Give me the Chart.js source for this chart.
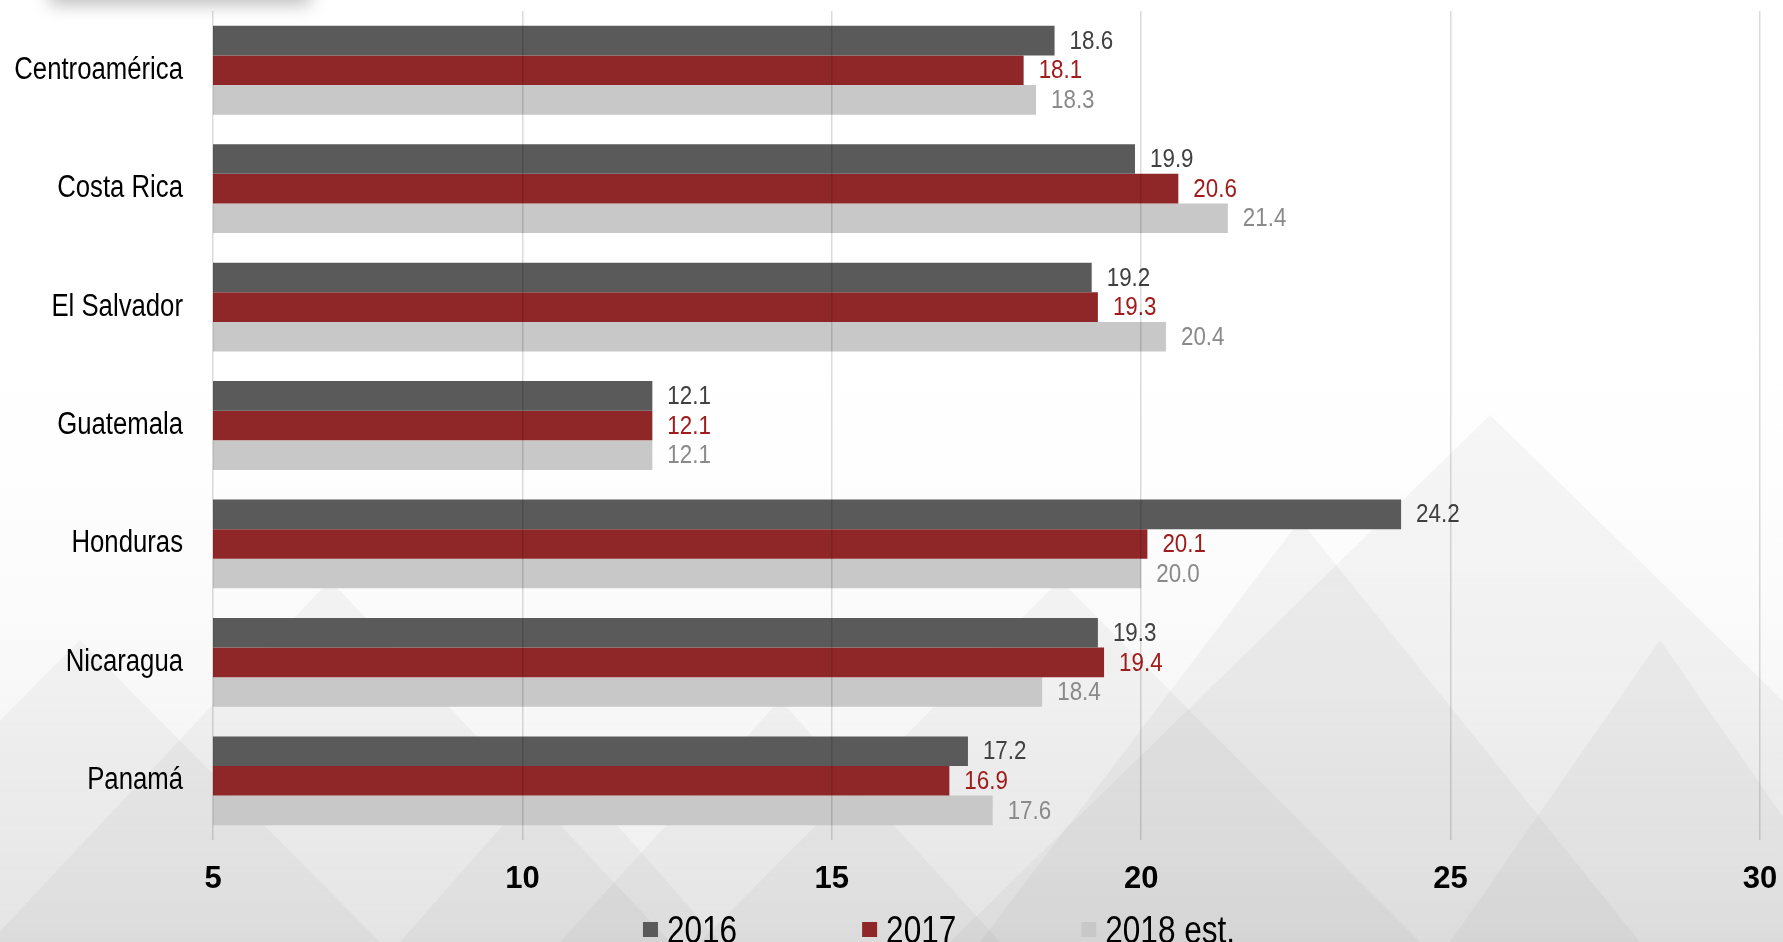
<!DOCTYPE html>
<html>
<head>
<meta charset="utf-8">
<script src="https://cdn.jsdelivr.net/npm/chart.js@4"></script>
<style>
  html, body { margin: 0; padding: 0; background: #fff; }
  #wrap { width: 1783px; height: 942px; position: relative; }
</style>
</head>
<body>
<div id="wrap"><canvas id="barChart"></canvas></div>
<script>
var paises = ['Centroamérica', 'Costa Rica', 'El Salvador', 'Guatemala', 'Honduras', 'Nicaragua', 'Panamá'];
var serie2016 = [18.6, 19.9, 19.2, 12.1, 24.2, 19.3, 17.2];
var serie2017 = [18.1, 20.6, 19.3, 12.1, 20.1, 19.4, 16.9];
var serie2018 = [18.3, 21.4, 20.4, 12.1, 20.0, 18.4, 17.6];
var seriesNames = ['2016', '2017', '2018 est.'];
var xTicks = [5, 10, 15, 20, 25, 30];

var barColors = ['#5a5a5a', '#8f2729', '#c8c8c8'];
var labelColors = ['#404040', '#a01c1c', '#8a8a8a'];
var sans = '"Liberation Sans", Arial, sans-serif';

// draws text squeezed horizontally (the original uses a narrow typeface)
function narrowText(c, txt, x, y, align, k) {
  c.save();
  c.translate(x, y);
  c.scale(k, 1);
  c.textAlign = align;
  c.fillText(txt, 0, 0);
  c.restore();
}

// decorative grey "mountains" behind the chart
var fondo = {
  id: 'fondo',
  beforeDraw: function(chart) {
    var c = chart.ctx, w = chart.width, h = chart.height;
    c.save();
    // soft shadow at the top left
    c.shadowColor = 'rgba(0,0,0,0.28)';
    c.shadowBlur = 18;
    c.shadowOffsetY = 4;
    c.fillStyle = '#fff';
    c.fillRect(50, -30, 260, 30);
    c.shadowColor = 'transparent';
    var g = c.createLinearGradient(0, 300, 0, h);
    g.addColorStop(0, 'rgba(255,255,255,0)');
    g.addColorStop(1, 'rgba(200,200,200,0.35)');
    c.fillStyle = g;
    c.fillRect(0, 0, w, h);
    var tris = [
      [[1490, 415], [950, 942], [2030, 942]],
      [[1300, 520], [980, 942], [1640, 942]],
      [[1060, 580], [700, 942], [1420, 942]],
      [[1660, 640], [1450, 942], [1870, 942]],
      [[330, 580], [-10, 942], [670, 942]],
      [[80, 640], [-220, 942], [380, 942]],
      [[780, 700], [560, 942], [1000, 942]],
      [[560, 760], [400, 942], [720, 942]]
    ];
    c.fillStyle = 'rgba(110,110,110,0.06)';
    tris.forEach(function(t) {
      c.beginPath();
      c.moveTo(t[0][0], t[0][1]);
      c.lineTo(t[1][0], t[1][1]);
      c.lineTo(t[2][0], t[2][1]);
      c.closePath();
      c.fill();
    });
    c.restore();
  }
};

// category names on the left, value labels at the end of each bar
var etiquetas = {
  id: 'etiquetas',
  afterDatasetsDraw: function(chart) {
    var c = chart.ctx;
    var yScale = chart.scales.y;
    c.save();
    c.textBaseline = 'middle';
    c.font = '31px ' + sans;
    c.fillStyle = '#000';
    chart.data.labels.forEach(function(lbl, i) {
      narrowText(c, lbl, yScale.right - 30, yScale.getPixelForValue(i), 'right', 0.83);
    });
    c.font = '26px ' + sans;
    chart.data.datasets.forEach(function(ds, i) {
      var meta = chart.getDatasetMeta(i);
      c.fillStyle = labelColors[i];
      meta.data.forEach(function(bar, j) {
        narrowText(c, ds.data[j].toFixed(1), bar.x + 15, bar.y + 1, 'left', 0.86);
      });
    });
    c.restore();
  }
};

// legend at the bottom edge
var leyenda = {
  id: 'leyenda',
  afterDraw: function(chart) {
    var c = chart.ctx;
    c.save();
    c.font = '38px ' + sans;
    c.textBaseline = 'alphabetic';
    var box = 15, gap = 9, space = 125, k = 0.83;
    var widths = chart.data.datasets.map(function(ds) {
      return box + gap + c.measureText(ds.label).width * k;
    });
    var total = widths.reduce(function(a, b) { return a + b; }, 0) + space * (widths.length - 1);
    var x = 939 - total / 2;
    chart.data.datasets.forEach(function(ds, i) {
      c.fillStyle = ds.backgroundColor;
      c.fillRect(x, 922, box, box);
      c.fillStyle = '#000';
      narrowText(c, ds.label, x + box + gap, 943, 'left', k);
      x += widths[i] + space;
    });
    c.restore();
  }
};

var ctx = document.getElementById('barChart').getContext('2d');
var chart = new Chart(ctx, {
  type: 'bar',
  data: {
    labels: paises,
    datasets: [serie2016, serie2017, serie2018].map(function(d, i) {
      return {
        label: seriesNames[i],
        data: d,
        backgroundColor: barColors[i],
        borderWidth: 0,
        categoryPercentage: 0.75,
        barPercentage: 1.0
      };
    })
  },
  options: {
    indexAxis: 'y',
    responsive: true,
    maintainAspectRatio: false,
    animation: false,
    layout: { padding: { top: 11, right: 23, left: 0, bottom: 22 } },
    plugins: {
      legend: { display: false },
      tooltip: { enabled: false }
    },
    scales: {
      x: {
        min: 5,
        max: 30,
        afterBuildTicks: function(scale) {
          scale.ticks = xTicks.map(function(v) { return { value: v }; });
        },
        ticks: {
          padding: 21,
          color: '#000',
          font: { family: sans, size: 31, weight: 'bold' }
        },
        grid: { color: 'rgba(0,0,0,0.14)', lineWidth: 1.5, drawTicks: false, z: 1 },
        border: { display: false },
        afterFit: function(scale) {
          scale.height = 80;
          scale.paddingLeft = 0;
          scale.paddingRight = 0;
        }
      },
      y: {
        ticks: { display: false },
        grid: { display: false, drawTicks: false },
        border: { display: false },
        afterFit: function(scale) {
          scale.width = 213;
          scale.paddingTop = 0;
          scale.paddingBottom = 0;
        }
      }
    }
  },
  plugins: [fondo, etiquetas, leyenda]
});
</script>
</body>
</html>
